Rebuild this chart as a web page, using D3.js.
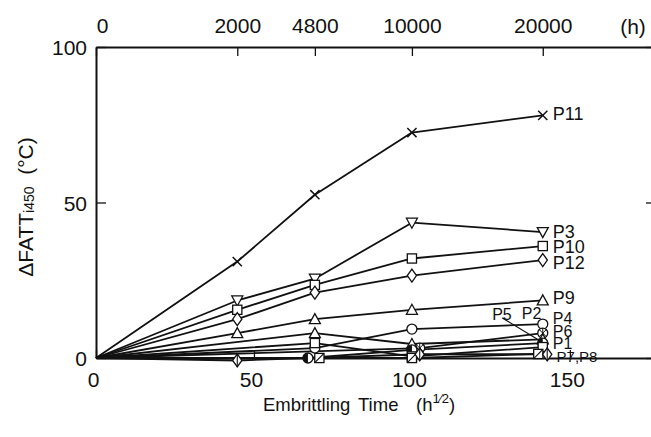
<!DOCTYPE html>
<html><head><meta charset="utf-8">
<script src="https://cdn.jsdelivr.net/npm/d3@7"></script>
<style>
html,body{margin:0;padding:0;background:#fff;}
svg{display:block;font-family:"Liberation Sans",Arial,Helvetica,sans-serif;}
</style></head><body>
<svg id="chart" width="651" height="437"></svg>
<script>
// ΔFATT shift of each heat versus ageing time at 450 °C (x plotted as √h)
const seriesNames   = ["P11","P3","P10","P12","P9","P4","P6","P5","P1","P2","P7","P8"];
const seriesMarkers = ["cross","triDown","square","diamond","triUp","circle","circleX","triUp","circleHalf","square","squareHalf","diamondLine"];
const seriesHours = [
  [0,2000,4800,10000,20000],   // P11
  [0,2000,4800,10000,20000],   // P3
  [0,2000,4800,10000,20000],   // P10
  [0,2000,4800,10000,20000],   // P12
  [0,2000,4800,10000,20000],   // P9
  [0,4800,10000,20000],        // P4
  [0,10500,20000],             // P6
  [0,4800,10000,20000],        // P5
  [0,4500,10000,20000],        // P1
  [0,4800,10000,20000],        // P2
  [0,5000,10000,19600],        // P7
  [0,2000,10500,20400]         // P8
];
const seriesValues = [
  [0,31,52.5,72.5,78],
  [0,18.5,25.5,43.5,40.5],
  [0,15.5,23.5,32,36],
  [0,12.5,21,26.5,31.5],
  [0,8,12.5,15.5,18.5],
  [0,3.2,9.3,10.9],
  [0,3.2,8],
  [0,8,4.5,6],
  [0,0,2.6,4.8],
  [0,4.8,0.5,3.5],
  [0,0,0,1.3],
  [0,-0.8,1.2,1.2]
];

// Series labels, anchored in data units (√h, ΔFATT)
const labelText = ["P11","P3","P10","P12","P9","P5","P2","P4","P6","P1","P7,P8"];
const labelX    = [144.6,144.6,144.6,144.6,144.6,125.4,134.8,144.6,144.6,144.6,145.8];
const labelY    = [78.5,40.8,36,30.7,19.6,14.0,14.3,12.8,8.6,4.6,0.6];
const labelSize = [18,18,18,18,18,16,16,16,16,16,15];
// leader from the "P5" label down to its point
const leaderX = [128.6,139.6];
const leaderY = [12.9,6.1];

const bottomTicks = [0,50,100,150];
const topTickHours = [0,2000,4800,10000,20000];
const yTicks = [0,50,100];

const svg = d3.select("#chart");
const x = d3.scaleLinear().domain([0,176]).range([96,652]);
const xTop = d3.scaleSqrt().domain([0,176*176]).range([96,652]);
const y = d3.scaleLinear().domain([0,100]).range([358,47]);

const ink = "#111";
const tickFont = "21px";

// frame & axes
const gBottom = svg.append("g").attr("transform","translate(0,358)")
  .call(d3.axisBottom(x).tickValues(bottomTicks).tickSize(-8).tickPadding(14).tickSizeOuter(0));
const gTop = svg.append("g").attr("transform","translate(0,47)")
  .call(d3.axisTop(xTop).tickValues(topTickHours).tickFormat(d3.format("d")).tickSize(-9).tickPadding(14).tickSizeOuter(0));
const gLeft = svg.append("g").attr("transform","translate(96,0)")
  .call(d3.axisLeft(y).tickValues(yTicks).tickSize(-10).tickPadding(9).tickSizeOuter(0));
const gRight = svg.append("g").attr("transform","translate(656,0)")
  .call(d3.axisRight(y).tickValues(yTicks).tickSize(-10).tickFormat("").tickSizeOuter(0));

[gBottom,gTop,gLeft,gRight].forEach(g=>{
  g.select(".domain").attr("stroke",ink).attr("stroke-width",2);
  g.selectAll(".tick line").attr("stroke",ink).attr("stroke-width",1.3);
  g.selectAll(".tick text").attr("fill",ink).style("font-size",tickFont).style("font-family","inherit");
});
gTop.selectAll(".tick text").filter(d=>d===0).attr("dx",6);
gLeft.selectAll(".tick text").attr("dy","0.36em");
gBottom.selectAll(".tick text").attr("dx",-3);

// hour unit on the top axis
svg.append("text").attr("x",633).attr("y",34).attr("text-anchor","middle")
  .attr("fill",ink).style("font-size",tickFont).text("(h)");

// axis titles
const xt = svg.append("text").attr("y",411).attr("fill",ink).style("font-size","18.5px");
xt.append("tspan").attr("x",263).text("Embrittling");
xt.append("tspan").attr("x",358).text("Time");
xt.append("tspan").attr("x",416).text("(h");
xt.append("tspan").attr("dy",-8).attr("font-size","13px").text("1⁄2");
xt.append("tspan").attr("dy",8).text(")");

const yt = svg.append("text").attr("transform","translate(33,207) rotate(-90)")
  .attr("text-anchor","middle").attr("fill",ink).style("font-size","21px").attr("xml:space","preserve");
yt.append("tspan").text("ΔFATT");
yt.append("tspan").attr("font-size","14px").attr("dy",1).text("i450");
yt.append("tspan").attr("dy",-1).text("  (°C)");

// lines
const line = d3.line().x(d=>x(Math.sqrt(d[0]))).y(d=>y(d[1]));
const pts = seriesNames.map((n,i)=>seriesHours[i].map((h,j)=>[h,seriesValues[i][j]]));

svg.append("g").selectAll("path").data(pts).join("path")
  .attr("d",line).attr("fill","none").attr("stroke",ink).attr("stroke-width",1.8)
  .attr("stroke-linejoin","round");

// markers
function drawMarker(g,type){
  const s = 4.6;
  const st = {stroke:ink,"stroke-width":1.3,fill:"#fff"};
  const ap = (sel)=>{Object.entries(st).forEach(([k,v])=>sel.attr(k,v));return sel;};
  switch(type){
    case "cross":
      g.append("path").attr("d",`M${-s},${-s}L${s},${s}M${-s},${s}L${s},${-s}`).attr("stroke",ink).attr("stroke-width",1.5);
      break;
    case "triDown":
      ap(g.append("path").attr("d",`M${-5.5},${-4.5}L5.5,-4.5L0,5.5Z`));break;
    case "triUp":
      ap(g.append("path").attr("d",`M${-5.5},4.5L5.5,4.5L0,-5.5Z`));break;
    case "square":
      ap(g.append("rect").attr("x",-s).attr("y",-s).attr("width",2*s).attr("height",2*s));break;
    case "squareHalf":
      ap(g.append("rect").attr("x",-s).attr("y",-s).attr("width",2*s).attr("height",2*s));
      g.append("path").attr("d",`M${-s},${s}L${s},${-s}`).attr("stroke",ink).attr("stroke-width",1.2);
      break;
    case "diamond":
      ap(g.append("path").attr("d",`M0,-6.5L4.6,0L0,6.5L-4.6,0Z`));break;
    case "diamondLine":
      ap(g.append("path").attr("d",`M0,-6.5L4.6,0L0,6.5L-4.6,0Z`));
      g.append("path").attr("d","M0,-6.5L0,6.5").attr("stroke",ink).attr("stroke-width",1.1);
      break;
    case "circle":
      ap(g.append("circle").attr("r",5));break;
    case "circleX":
      ap(g.append("circle").attr("r",5));
      g.append("path").attr("d","M-3.5,-3.5L3.5,3.5M-3.5,3.5L3.5,-3.5M0,-5L0,5").attr("stroke",ink).attr("stroke-width",1);
      break;
    case "circleHalf":
      ap(g.append("circle").attr("r",5));
      g.append("path").attr("d","M0,-5A5,5 0 0 0 0,5Z").attr("fill",ink);
      break;
  }
}
pts.forEach((p,i)=>{
  p.slice(1).forEach(d=>{
    const g = svg.append("g").attr("transform",`translate(${x(Math.sqrt(d[0]))},${y(d[1])})`);
    drawMarker(g,seriesMarkers[i]);
  });
});

// labels
svg.append("g").selectAll("text").data(labelText).join("text")
  .attr("x",(d,i)=>x(labelX[i])).attr("y",(d,i)=>y(labelY[i])).attr("dy","0.36em")
  .attr("fill",ink).style("font-size",(d,i)=>labelSize[i]+"px").text(d=>d);

svg.append("line")
  .attr("x1",x(leaderX[0])).attr("y1",y(leaderY[0]))
  .attr("x2",x(leaderX[1])).attr("y2",y(leaderY[1]))
  .attr("stroke",ink).attr("stroke-width",1.2);
</script>
</body></html>
